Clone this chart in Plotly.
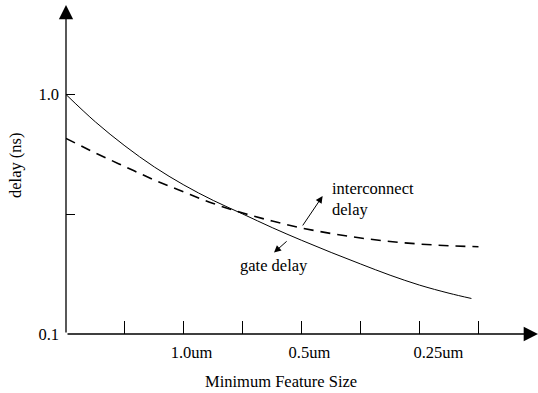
import plotly.graph_objects as go

# x positions along the (unitless) feature-size axis, one unit per tick mark
gate_x = [0.0, 0.5, 1.0, 1.5, 2.0, 2.5, 3.0, 3.5, 4.0, 4.5, 5.0, 5.5, 6.0, 6.5, 6.88]
gate_delay = [1.0, 0.768, 0.610, 0.498, 0.419, 0.361, 0.317, 0.278, 0.246, 0.219, 0.196, 0.176, 0.160, 0.148, 0.1407]

inter_x = [0.0, 0.5, 1.0, 1.5, 2.0, 2.5, 3.0, 3.5, 4.0, 4.5, 5.0, 5.5, 6.0, 6.5, 7.0]
inter_delay = [0.656, 0.570, 0.500, 0.4395, 0.3916, 0.3507, 0.320, 0.2963, 0.2771, 0.2628, 0.2517, 0.2433, 0.2375, 0.2336, 0.2314]

tick_marks_x = [1, 2, 3, 4, 5, 6, 7]
label_pos_x = [2.13, 4.13, 6.32]
label_text_x = ["1.0um", "0.5um", "0.25um"]

y_tickvals = [0.1, 0.316, 1.0]
y_ticktext = ["0.1", "", "1.0"]

X_MAX = 8.01
Y_LOG_MIN, Y_LOG_MAX = -1.0, 0.3737

FONT = "Liberation Serif"
FS = 16.5

fig = go.Figure()
fig.add_trace(go.Scatter(x=gate_x, y=gate_delay, mode="lines",
                         line=dict(color="black", width=1, shape="spline"),
                         name="gate delay", showlegend=False, hoverinfo="skip"))
fig.add_trace(go.Scatter(x=inter_x, y=inter_delay, mode="lines",
                         line=dict(color="black", width=1.6, dash="10px,7px", shape="spline"),
                         name="interconnect delay", showlegend=False, hoverinfo="skip"))

txt = dict(family=FONT, size=FS, color="black")
annotations = [
    # axes with arrowheads
    dict(x=X_MAX, y=Y_LOG_MIN, ax=0, ay=Y_LOG_MIN, xref="x", yref="y", axref="x", ayref="y",
         showarrow=True, arrowhead=2, arrowsize=2.2, arrowwidth=1.3, arrowcolor="black", text="", standoff=0),
    dict(x=0, y=Y_LOG_MAX, ax=0, ay=Y_LOG_MIN, xref="x", yref="y", axref="x", ayref="y",
         showarrow=True, arrowhead=2, arrowsize=2.2, arrowwidth=1.3, arrowcolor="black", text="", standoff=0),
    # callouts
    dict(x=4.355, y=-0.424, ax=4.00, ay=-0.553, xref="x", yref="y", axref="x", ayref="y",
         showarrow=True, arrowhead=2, arrowsize=1.4, arrowwidth=1, arrowcolor="black", text="", standoff=0),
    dict(x=3.53, y=-0.66, ax=3.77, ay=-0.6075, xref="x", yref="y", axref="x", ayref="y",
         showarrow=True, arrowhead=2, arrowsize=1.4, arrowwidth=1, arrowcolor="black", text="", standoff=0),
    dict(x=4.48, y=-0.436, xref="x", yref="y", text="interconnect<br>delay", showarrow=False,
         xanchor="left", yanchor="middle", align="left", font=txt),
    dict(x=3.53, y=-0.712, xref="x", yref="y", text="gate delay", showarrow=False,
         xanchor="center", yanchor="middle", font=txt),
    dict(x=(281 - 66) / 58.9, y=-(381 - 334) / 329, xref="x", yref="paper", text="Minimum Feature Size",
         showarrow=False, xanchor="center", yanchor="middle", font=txt),
    dict(x=(16 - 66) / 472, y=(334 - 165) / 329, xref="paper", yref="paper", text="delay (ns)",
         textangle=-90, showarrow=False, xanchor="center", yanchor="middle", font=txt),
]

fig.update_layout(
    width=538, height=393,
    margin=dict(l=66, r=0, t=5, b=59),
    paper_bgcolor="white", plot_bgcolor="white",
    font=txt,
    annotations=annotations,
    hovermode=False,
    xaxis=dict(range=[0, X_MAX], showgrid=False, zeroline=False, showline=False, automargin=False,
               tickmode="array", tickvals=label_pos_x, ticktext=label_text_x, ticks="",
               ticklabelstandoff=6,
               minor=dict(tickmode="array", tickvals=tick_marks_x, ticks="inside", ticklen=13,
                          tickwidth=1, tickcolor="black", showgrid=False)),
    yaxis=dict(type="log", range=[Y_LOG_MIN, Y_LOG_MAX], showgrid=False, zeroline=False, showline=False,
               automargin=False,
               tickmode="array", tickvals=y_tickvals, ticktext=y_ticktext,
               ticks="inside", ticklen=9, tickwidth=1, tickcolor="black", ticklabelstandoff=6),
)

fig.write_html("out.html", config={"displayModeBar": False},
               post_script="document.body.style.margin='0';document.body.style.overflow='hidden';")
